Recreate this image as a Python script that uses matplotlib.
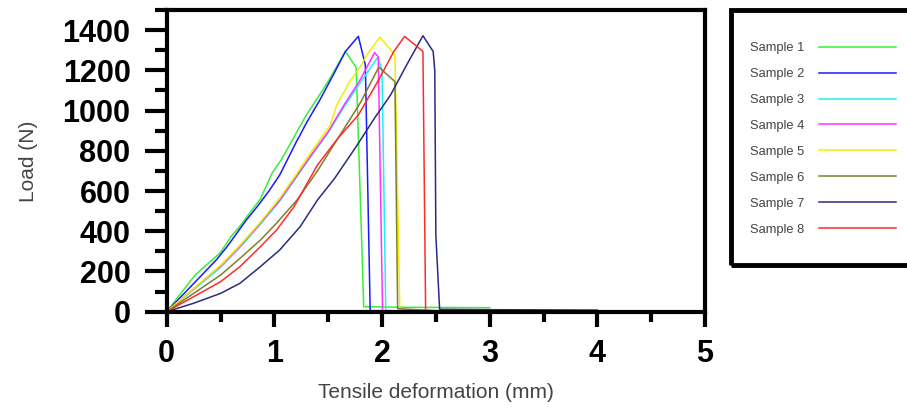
import matplotlib
matplotlib.use("Agg")
from matplotlib import pyplot as plt
from matplotlib.patches import Rectangle
from matplotlib.ticker import MultipleLocator

# tensile tests, load vs deformation
s1_x = [0, 0.26, 0.5, 0.6, 0.68, 0.77, 0.87, 0.98, 1.07, 1.21, 1.3, 1.49, 1.66, 1.76, 1.83, 2.2, 3.0]
s1_y = [0, 180, 295, 375, 425, 490, 560, 690, 760, 895, 980, 1136, 1294, 1214, 25, 22, 20]
s2_x = [0, 0.46, 0.56, 0.74, 0.84, 0.95, 1.05, 1.2, 1.31, 1.42, 1.55, 1.66, 1.78, 1.845, 1.89, 2.5, 3.0]
s2_y = [0, 257, 323, 456, 522, 600, 680, 840, 950, 1050, 1180, 1294, 1369, 1227, 5, 4, 3]
s3_x = [0, 0.5, 0.68, 0.87, 1.05, 1.2, 1.35, 1.5, 1.65, 1.8, 1.96, 2.0, 2.035, 2.5, 3.0]
s3_y = [0, 220, 320, 435, 550, 665, 780, 890, 1020, 1140, 1265, 1200, 5, 3, 2]
s4_x = [0, 0.5, 0.68, 0.87, 1.05, 1.2, 1.35, 1.5, 1.65, 1.8, 1.93, 1.965, 2.005, 2.5, 3.0]
s4_y = [0, 228, 325, 440, 555, 670, 785, 895, 1030, 1155, 1288, 1268, 5, 3, 2]
s5_x = [0, 0.5, 0.68, 0.87, 1.05, 1.2, 1.35, 1.52, 1.58, 1.7, 1.8, 1.86, 1.98, 2.12, 2.165, 2.5, 3.1]
s5_y = [0, 230, 330, 445, 565, 680, 800, 928, 1028, 1144, 1219, 1277, 1365, 1277, 10, 6, 4]
s6_x = [0, 0.5, 0.68, 0.87, 1.02, 1.21, 1.4, 1.6, 1.8, 1.97, 2.12, 2.145, 2.5, 3.0]
s6_y = [0, 182, 265, 356, 440, 555, 700, 870, 1040, 1216, 1144, 15, 5, 3]
s7_x = [0, 0.25, 0.5, 0.68, 0.87, 1.05, 1.24, 1.4, 1.56, 1.77, 1.93, 2.08, 2.23, 2.38, 2.475, 2.49, 2.5, 2.535, 3.0, 4.0]
s7_y = [0, 42, 91, 141, 224, 307, 423, 555, 663, 829, 962, 1078, 1228, 1372, 1294, 1200, 380, 12, 10, 8]
s8_x = [0, 0.5, 0.68, 0.87, 1.02, 1.18, 1.4, 1.59, 1.78, 1.96, 2.11, 2.21, 2.38, 2.405, 2.6, 3.1]
s8_y = [0, 149, 224, 323, 406, 520, 729, 862, 978, 1144, 1294, 1369, 1294, 5, 4, 3]

labels = ['Sample %d' % i for i in range(1, 9)]
colors = ['#38ef38', '#1a1aff', '#20f0f0', '#ff33ff', '#f0f000', '#7f7f2a', '#2a2a80', '#ff2a2a']
series = [(s1_x, s1_y), (s2_x, s2_y), (s3_x, s3_y), (s4_x, s4_y),
          (s5_x, s5_y), (s6_x, s6_y), (s7_x, s7_y), (s8_x, s8_y)]

fig = plt.figure(figsize=(9.07, 4.11), dpi=100)
ax = fig.add_axes([166.7 / 907, 1 - 311.7 / 411, (705 - 166.7) / 907, (311.7 - 10) / 411])

lines = []
for (xs, ys), c, lab in zip(series, colors, labels):
    ln, = ax.plot(xs, ys, color=c, lw=1.1, label=lab)
    lines.append(ln)

ax.set_xlim(0, 5)
ax.set_ylim(0, 1500)
ax.xaxis.set_major_locator(MultipleLocator(1))
ax.xaxis.set_minor_locator(MultipleLocator(0.5))
ax.yaxis.set_major_locator(MultipleLocator(200))
ax.yaxis.set_minor_locator(MultipleLocator(100))
for sp in ax.spines.values():
    sp.set_linewidth(3)
ax.tick_params(axis='y', which='major', length=16, width=3, pad=10)
ax.tick_params(axis='y', which='minor', length=9, width=3)
ax.tick_params(axis='x', which='major', length=11, width=3, pad=9)
ax.tick_params(axis='x', which='minor', length=7, width=3)
for t in ax.get_xticklabels() + ax.get_yticklabels():
    t.set_fontfamily(['Liberation Sans', 'DejaVu Sans'])
    t.set_fontweight('bold')
    t.set_fontsize(22)

lab_font = dict(family=['Liberation Sans', 'DejaVu Sans'], size=15, color='#444444')
ax.set_xlabel('Tensile deformation (mm)', labelpad=10, **lab_font)
ax.set_ylabel('Load (N)', labelpad=18, **lab_font)

# legend box, runs off the right edge like the reference
fig.patches.append(Rectangle((730.5 / 907, 1 - 264.5 / 411), 0.3, 254 / 411,
                             transform=fig.transFigure, fill=False, lw=3.5,
                             edgecolor='black'))
leg = fig.legend(handles=lines, loc='upper left', bbox_to_anchor=(750 / 907, 1 - 42 / 411),
                 bbox_transform=fig.transFigure, frameon=False, markerfirst=False,
                 handlelength=6.0, handletextpad=1.1, labelspacing=1.08, borderpad=0,
                 borderaxespad=0, prop=dict(family=['Liberation Sans', 'DejaVu Sans'], size=9.3))
for t in leg.get_texts():
    t.set_color('#444444')

fig.savefig('out.png', dpi=100)
